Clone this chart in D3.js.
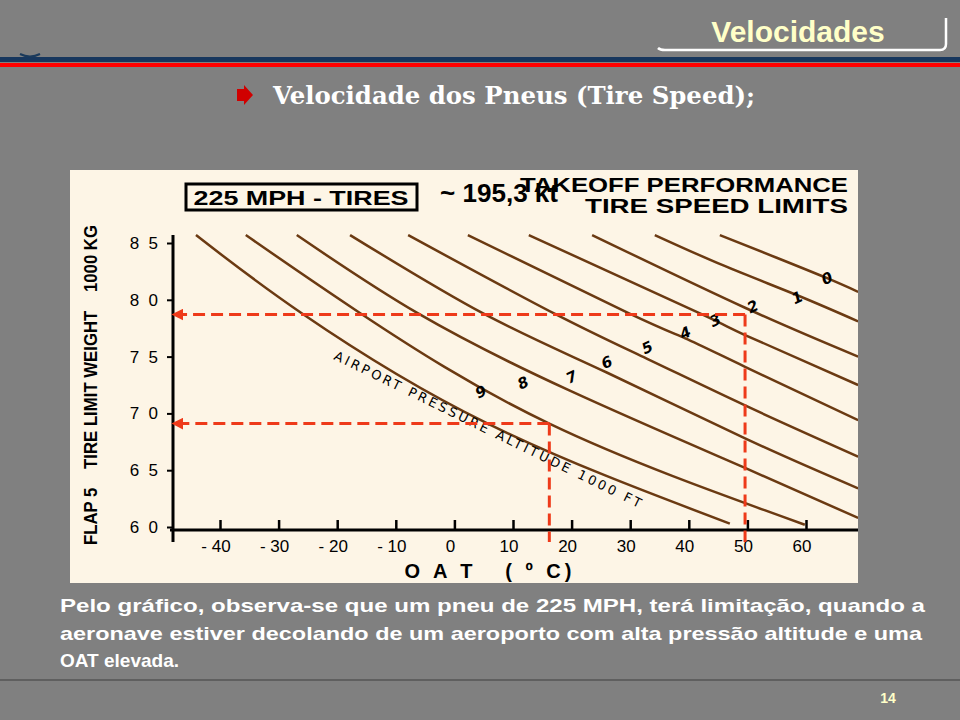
<!DOCTYPE html>
<html><head><meta charset="utf-8">
<script src="https://cdn.jsdelivr.net/npm/d3@7"></script>
<style>body{margin:0;background:#808080;}svg{display:block;}</style>
</head><body>
<script>
// curves: airport pressure altitude (1000 ft), points [OAT, weight]
var altitudes = [0,1,2,3,4,5,6,7,8,9];
var curve0 = [[45.3,85.7],[55,83.7],[63.6,81.9],[68.9,80.7]];
var curve1 = [[34.2,85.7],[46,83.0],[58.5,80.4],[68.9,78.1]];
var curve2 = [[23.5,85.7],[49.6,79.3],[68.9,75.0]];
var curve3 = [[12.7,85.7],[41.9,78.8],[49.6,76.9],[68.9,72.5]];
var curve4 = [[2.3,85.7],[29.8,78.8],[39.4,76.6],[49.6,74.1],[68.9,69.4]];
var curve5 = [[-7.9,85.7],[17,78.8],[32.9,74.8],[49.6,70.7],[68.9,66.2]];
var curve6 = [[-17.8,85.7],[4.9,78.8],[26,73.6],[49.6,67.8],[68.9,63.4]];
var curve7 = [[-26.9,85.7],[-6.2,78.8],[19.7,72.0],[49.6,65.2],[68.9,60.8]];
var curve8 = [[-35.6,85.7],[-16,78.8],[16.2,69.1],[59.8,60.2]];
var curve9 = [[-44.1,85.7],[-26,78.8],[5.7,69.1],[47,60.3]];
var curves = [curve0,curve1,curve2,curve3,curve4,curve5,curve6,curve7,curve8,curve9];
var labelPos = [[63.6,81.9],[58.5,80.2],[50.9,79.4],[44.5,78.2],[39.4,77.1],[32.9,75.8],[26,74.5],[20,73.2],[11.7,72.7],[4.5,71.9]];
var xTicks = [-40,-30,-20,-10,0,10,20,30,40,50,60];
var yTicks = [60,65,70,75,80,85];
var examples = [[49.6,78.7],[16.2,69.1]];
var textLines = ["Pelo gráfico, observa-se que um pneu de 225 MPH, terá limitação, quando a",
  "aeronave estiver decolando de um aeroporto com alta pressão altitude e uma",
  "OAT elevada."];
var textWidths = [865, 862, null];

var svg = d3.select("body").append("svg").attr("width",960).attr("height",720);
svg.append("rect").attr("width",960).attr("height",720).attr("fill","#808080");

// header
svg.append("text").text("Velocidades").attr("x",798).attr("y",42).attr("text-anchor","middle")
  .attr("fill","#ffffc8").attr("font-family","Liberation Sans Narrow, Liberation Sans").attr("font-weight","bold").attr("font-size",30);
svg.append("path").attr("d","M658,48 Q660,50 665,50 L940,50 Q946,50 946,44 L946,18").attr("fill","none").attr("stroke","#fff").attr("stroke-width",2.5);
svg.append("path").attr("d","M20,54 Q30,59 40,54").attr("fill","none").attr("stroke","#1a3a5c").attr("stroke-width",2);
svg.append("rect").attr("x",0).attr("y",57).attr("width",960).attr("height",5).attr("fill","#17375e");
svg.append("rect").attr("x",0).attr("y",63).attr("width",960).attr("height",4).attr("fill","#ff0000");
svg.append("path").attr("d","M237,89 L244,89 L244,85 L253,95 L244,105 L244,101 L237,101 Z").attr("fill","#d00000");
svg.append("text").text("Velocidade dos Pneus (Tire Speed);").attr("x",273).attr("y",104)
  .attr("textLength",482).attr("lengthAdjust","spacingAndGlyphs")
  .attr("fill","#fff").attr("font-family","DejaVu Serif").attr("font-weight","bold").attr("font-size",25);

// chart panel
svg.append("rect").attr("x",70).attr("y",170).attr("width",788).attr("height",413).attr("fill","#fdf5e6");
var x = d3.scaleLinear().domain([-40,60]).range([220,806]);
var y = d3.scaleLinear().domain([60,85]).range([527,243]);

var g = svg.append("g");
g.append("defs").append("clipPath").attr("id","clip").append("rect")
  .attr("x",172).attr("y",170).attr("width",686).attr("height",360);
var line = d3.line().x(function(d){return x(d[0]);}).y(function(d){return y(d[1]);}).curve(d3.curveNatural);
g.append("g").attr("clip-path","url(#clip)").selectAll("path").data(curves).enter().append("path")
  .attr("d",line).attr("fill","none").attr("stroke","#6b3a12").attr("stroke-width",2.5);

g.selectAll("text.alt").data(altitudes).enter().append("text").attr("class","alt")
  .text(function(d){return d;})
  .attr("transform",function(d,i){return "translate("+x(labelPos[i][0])+","+y(labelPos[i][1])+") rotate(-25)";})
  .attr("text-anchor","middle").attr("dy","0.35em")
  .attr("font-family","DejaVu Sans").attr("font-weight","bold").attr("font-style","italic").attr("font-size",15);

g.append("text").text("AIRPORT PRESSURE ALTITUDE 1000 FT")
  .attr("transform","translate("+x(5.7)+","+y(68.6)+") rotate(26)")
  .attr("text-anchor","middle").attr("dy","0.35em").attr("textLength",340).attr("lengthAdjust","spacing")
  .attr("font-family","DejaVu Sans").attr("font-size",13);

// axes
var xAxis = d3.axisTop(x).tickValues(xTicks).tickSize(10).tickFormat("");
g.append("g").attr("transform","translate(0,530)").call(xAxis)
  .call(function(s){s.select(".domain").remove();s.selectAll("line").attr("stroke","#000").attr("stroke-width",2.5);});
g.append("line").attr("x1",170).attr("x2",858).attr("y1",530).attr("y2",530).attr("stroke","#000").attr("stroke-width",3);
g.append("line").attr("x1",173).attr("x2",173).attr("y1",235).attr("y2",542).attr("stroke","#000").attr("stroke-width",3);
g.selectAll("text.xt").data(xTicks).enter().append("text").attr("class","xt")
  .text(function(d){return d<0?"- "+(-d):d;}).attr("x",function(d){return x(d)-4;}).attr("y",552)
  .attr("text-anchor","middle").attr("font-family","Liberation Sans").attr("font-size",17);
var yAxis = d3.axisLeft(y).tickValues(yTicks).tickSize(5).tickFormat("");
g.append("g").attr("transform","translate(172,0)").call(yAxis)
  .call(function(s){s.select(".domain").remove();s.selectAll("line").attr("stroke","#000").attr("stroke-width",2);});
g.selectAll("text.yt").data(yTicks).enter().append("text").attr("class","yt")
  .text(function(d){return String(d).split("").join("  ");}).attr("x",158).attr("y",function(d){return y(d);})
  .attr("dy","0.35em").attr("text-anchor","end").attr("font-family","Liberation Sans").attr("font-size",17).attr("xml:space","preserve");

g.append("text").text("O A T   ( º C)").attr("x",488).attr("y",578).attr("text-anchor","middle")
  .attr("textLength",167).attr("lengthAdjust","spacing")
  .attr("font-family","Liberation Sans").attr("font-weight","bold").attr("font-size",20).attr("xml:space","preserve");
g.append("text").text("FLAP 5    TIRE LIMIT WEIGHT    1000 KG").attr("transform","translate(97,385) rotate(-90)")
  .attr("text-anchor","middle").attr("textLength",320).attr("lengthAdjust","spacingAndGlyphs")
  .attr("font-family","Liberation Sans").attr("font-weight","bold").attr("font-size",18).attr("xml:space","preserve");

// titles
g.append("rect").attr("x",186).attr("y",184).attr("width",231).attr("height",26).attr("fill","none").attr("stroke","#000").attr("stroke-width",3);
g.append("text").text("225 MPH - TIRES").attr("x",301).attr("y",205).attr("text-anchor","middle")
  .attr("textLength",215).attr("lengthAdjust","spacingAndGlyphs")
  .attr("font-family","Liberation Sans").attr("font-weight","bold").attr("font-size",21);
g.append("text").text("TAKEOFF PERFORMANCE").attr("x",848).attr("y",192).attr("text-anchor","end")
  .attr("textLength",328).attr("lengthAdjust","spacingAndGlyphs")
  .attr("font-family","Liberation Sans").attr("font-weight","bold").attr("font-size",21);
g.append("text").text("TIRE SPEED LIMITS").attr("x",848).attr("y",213).attr("text-anchor","end")
  .attr("textLength",263).attr("lengthAdjust","spacingAndGlyphs")
  .attr("font-family","Liberation Sans").attr("font-weight","bold").attr("font-size",21);
g.append("text").text("~ 195,3 kt").attr("x",440).attr("y",202)
  .attr("textLength",118).attr("lengthAdjust","spacingAndGlyphs")
  .attr("font-family","Liberation Sans Narrow, Liberation Sans").attr("font-weight","bold").attr("font-size",26);

// example dashed lines
var red = "#ee3a1a";
g.append("defs").append("marker").attr("id","arr").attr("viewBox","0 0 10 10").attr("refX",2).attr("refY",5)
  .attr("markerWidth",4).attr("markerHeight",4).attr("orient","auto-start-reverse")
  .append("path").attr("d","M0,0 L10,5 L0,10 Z").attr("fill",red);
examples.forEach(function(e){
  g.append("line").attr("x1",x(e[0])).attr("x2",181).attr("y1",y(e[1])).attr("y2",y(e[1]))
    .attr("stroke",red).attr("stroke-width",3).attr("stroke-dasharray","12,6").attr("marker-end","url(#arr)");
  g.append("line").attr("x1",x(e[0])).attr("x2",x(e[0])).attr("y1",y(e[1])).attr("y2",542)
    .attr("stroke",red).attr("stroke-width",3).attr("stroke-dasharray","12,6");
});

// footer text
svg.selectAll("text.para").data(textLines).enter().append("text").attr("class","para")
  .text(function(d){return d;}).attr("x",60).attr("y",function(d,i){return 612+i*27.5;})
  .attr("textLength",function(d,i){return textWidths[i];}).attr("lengthAdjust","spacingAndGlyphs")
  .attr("fill","#fff").attr("font-family","Liberation Sans").attr("font-weight","bold").attr("font-size",19);
svg.append("line").attr("x1",0).attr("x2",960).attr("y1",680).attr("y2",680).attr("stroke","#555").attr("stroke-width",1.5);
svg.append("text").text("14").attr("x",888).attr("y",703).attr("text-anchor","middle")
  .attr("fill","#ffffc8").attr("font-family","Liberation Sans").attr("font-weight","bold").attr("font-size",14);
</script>
</body></html>
